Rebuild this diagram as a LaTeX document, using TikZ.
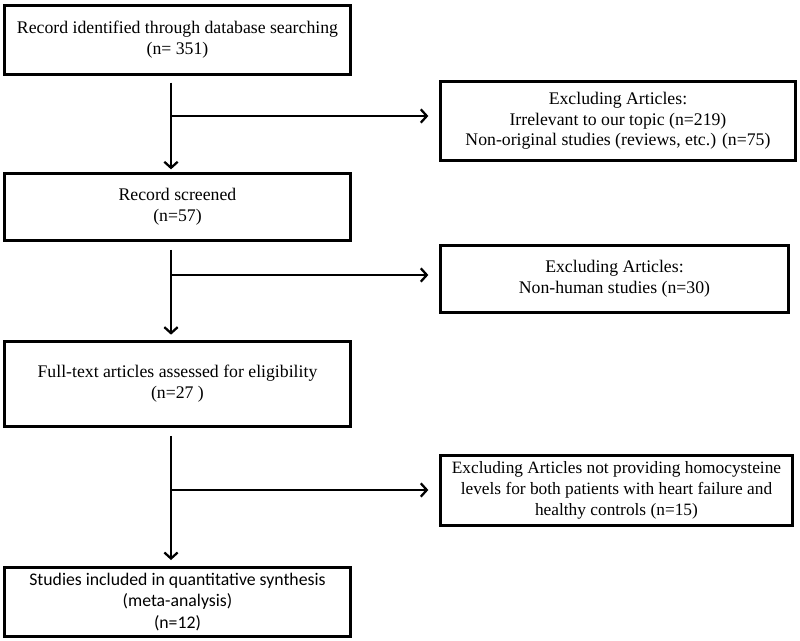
\documentclass[tikz,border=0pt]{standalone}
\usepackage{fontspec}
\setmainfont{Liberation Serif}
\newfontfamily\calfont{Carlito}
\usetikzlibrary{positioning,arrows.meta}

\begin{document}
\begin{tikzpicture}[
x=0.75pt, y=-0.75pt,
font=\fontsize{13.3}{15.5}\selectfont,
>={Straight Barb[length=4.5pt,width=10pt]},   % Pfeilspitzen
box/.style={draw, line width=2.2pt, anchor=north west, align=center, inner sep=0pt},
arr/.style={->, line width=1.7pt}
]

\useasboundingbox (0,0) rectangle (800,640);

% Hauptkette links
\node[box, minimum width=259.5pt, minimum height=51.75pt] (ident) at (3,4)
  {Record identified through database searching\\(n= 351)};
\node[box, minimum width=259.5pt, minimum height=50.25pt] (screen) at (3,172)
  {Record screened\\(n=57)};
\node[box, minimum width=259.5pt, minimum height=63.75pt] (fulltext) at (3,340)
  {Full-text articles assessed for eligibility\\(n=27 )};
\node[box, minimum width=259.5pt, minimum height=51.75pt,
      font=\calfont\fontsize{13.3}{16}\selectfont] (included) at (3,566)
  {Studies included in quantitative synthesis\\(meta-analysis)\\(n=12)};

% Ausschluesse rechts
\node[box, minimum width=266.25pt, minimum height=59.25pt] (excl1) at (439,80)
  {Excluding Articles:\\Irrelevant to our topic (n=219)\\Non-original studies (reviews, etc.) (n=75)};
\node[box, minimum width=261pt, minimum height=50.25pt] (excl2) at (439,244)
  {Excluding Articles:\\Non-human studies (n=30)};
\node[box, minimum width=264pt, minimum height=52.5pt,
      font=\fontsize{13}{16}\selectfont] (excl3) at (439,454)
  {Excluding Articles not providing homocysteine\\levels for both patients with heart failure and\\healthy controls (n=15)};

% Abzweigpunkte
\coordinate (split1) at (171,116);
\coordinate (split2) at (171,275);
\coordinate (split3) at (171,490);

% Pfeile nach unten
\draw[arr, shorten <=5pt, shorten >=2pt] (ident.south -| split1) -- (screen.north -| split1);
\draw[arr, shorten <=6pt, shorten >=4pt] (screen.south -| split2) -- (fulltext.north -| split2);
\draw[arr, shorten <=6pt, shorten >=4.5pt] (fulltext.south -| split3) -- (included.north -| split3);

% Pfeile nach rechts
\draw[arr, shorten >=8pt] (split1) -- (excl1.west |- split1);
\draw[arr, shorten >=8pt] (split2) -- (excl2.west |- split2);
\draw[arr, shorten >=8pt] (split3) -- (excl3.west |- split3);
\end{tikzpicture}
\end{document}
